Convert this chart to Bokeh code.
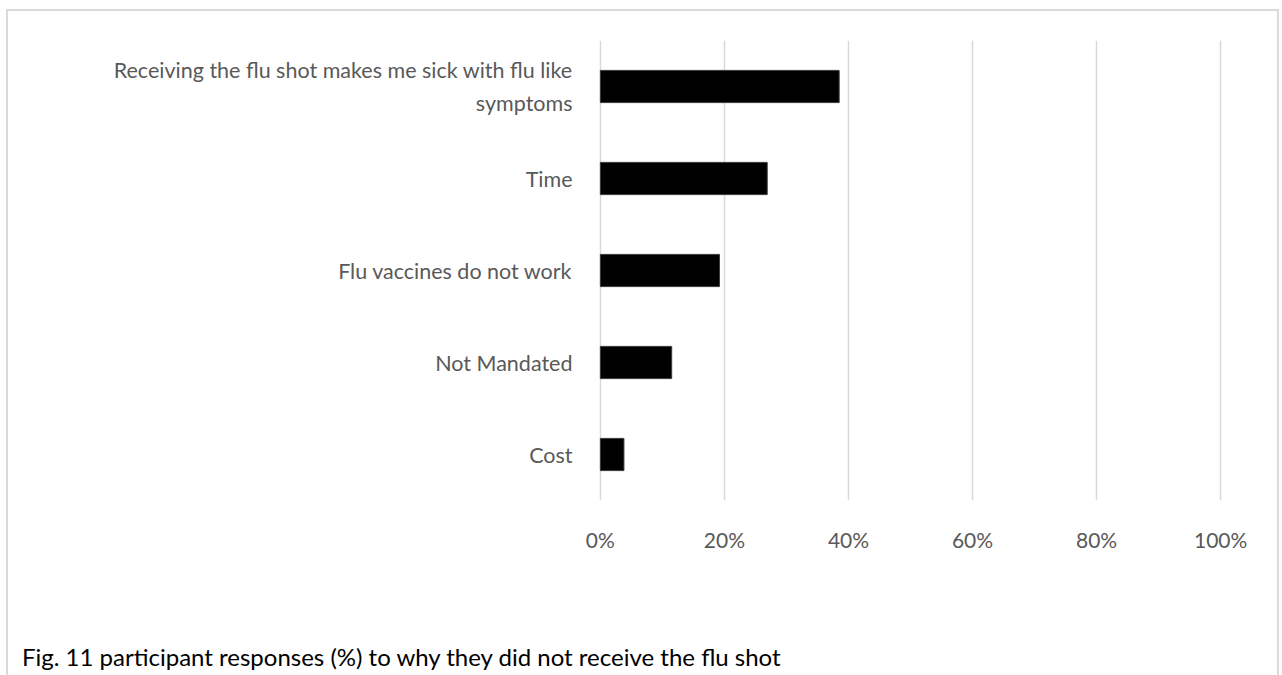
from bokeh.plotting import figure
from bokeh.models import FixedTicker, PrintfTickFormatter, FactorRange, Range1d, Div
from bokeh.layouts import column
from bokeh.embed import file_html
from bokeh.resources import INLINE

# Data (percent of participants)
categories = [
    "Receiving the flu shot makes me sick with flu like\nsymptoms",
    "Time",
    "Flu vaccines do not work",
    "Not Mandated",
    "Cost",
]
values = [38.5, 26.9, 19.2, 11.5, 3.8]
x_ticks = [0, 20, 40, 60, 80, 100]
caption = "Fig. 11 participant responses (%) to why they did not receive the flu shot"

FONT = "Lato"
GRAY = "#595959"

factors = list(reversed(categories))
p = figure(
    width=1264, height=565,
    y_range=FactorRange(factors=factors, range_padding=0),
    x_range=Range1d(-0.3, 100.3),
    output_backend="svg", toolbar_location=None,
    min_border_left=590, min_border_right=50, min_border_top=29, min_border_bottom=76,
)
p.outline_line_color = None
p.background_fill_color = "white"
p.border_fill_color = "white"

p.hbar(y=categories, right=values, left=0, height=0.35,
       fill_color="black", line_color="#3a3a3a", line_width=1)

# x axis
p.xaxis.ticker = FixedTicker(ticks=x_ticks)
p.xaxis.formatter = PrintfTickFormatter(format="%d%%")
p.xaxis.axis_line_color = None
p.xaxis.major_tick_line_color = None
p.xaxis.minor_tick_line_color = None
p.xaxis.major_label_text_font = FONT
p.xaxis.major_label_text_font_size = "21px"
p.xaxis.major_label_text_color = GRAY
p.xaxis.major_label_standoff = 20

# y axis
p.yaxis.axis_line_color = None
p.yaxis.major_tick_line_color = None
p.yaxis.minor_tick_line_color = None
p.yaxis.major_label_text_font = FONT
p.yaxis.major_label_text_font_size = "21.5px"
p.yaxis.major_label_text_color = GRAY
p.yaxis.major_label_standoff = 20
p.yaxis.major_label_text_line_height = 1.3

p.xgrid.grid_line_color = "#d9d9d9"
p.xgrid.grid_line_width = 1.5
p.ygrid.grid_line_color = None

cap = Div(text=caption, width=1250, height=30,
          styles={"font-family": FONT, "font-size": "24px", "color": "black",
                  "margin-left": "14px", "margin-top": "64px", "white-space": "nowrap"})

layout = column(p, cap, spacing=0,
                styles={"margin-left": "6px", "margin-top": "9px",
                        "border-left": "2px solid #dadada", "border-top": "2px solid #dadada",
                        "border-right": "2px solid #dadada"})

open("out.html", "w").write(file_html(layout, INLINE))
